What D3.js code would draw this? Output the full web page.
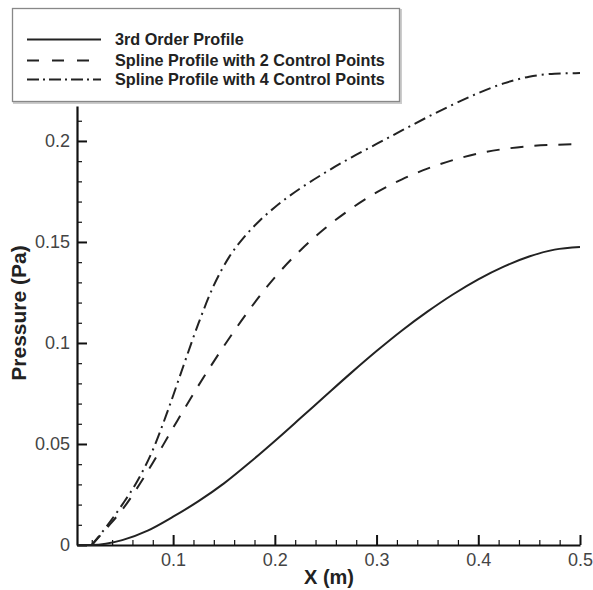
<!DOCTYPE html>
<html>
<head>
<meta charset="utf-8">
<script src="https://cdn.jsdelivr.net/npm/d3@7"></script>
<style>
  body { margin: 0; background: #fff; }
  svg { display: block; font-family: "Liberation Sans", Arial, sans-serif; }
  .axis path, .axis line { stroke: #111; }
  .axis text { fill: #444; font-size: 18px; }
</style>
</head>
<body>
<svg width="593" height="590"></svg>
<script>
// values
var thirdX = [0.006, 0.02, 0.05, 0.075, 0.1, 0.125, 0.15, 0.175, 0.2, 0.225, 0.25, 0.275, 0.3, 0.325, 0.35, 0.375, 0.4, 0.425, 0.45, 0.475, 0.5];
var thirdY = [0, 0, 0.0024, 0.0071, 0.014, 0.0217, 0.0305, 0.0407, 0.0515, 0.0627, 0.074, 0.0852, 0.096, 0.1062, 0.1155, 0.124, 0.1315, 0.1378, 0.1428, 0.1462, 0.1475];

var spline2X = [0.02, 0.035, 0.05, 0.075, 0.1, 0.125, 0.15, 0.175, 0.2, 0.225, 0.25, 0.275, 0.3, 0.325, 0.35, 0.375, 0.4, 0.425, 0.45, 0.475, 0.5];
var spline2Y = [0, 0.0085, 0.0175, 0.0365, 0.058, 0.079, 0.0985, 0.1165, 0.1325, 0.1458, 0.157, 0.1665, 0.1745, 0.181, 0.1863, 0.1905, 0.1938, 0.196, 0.1974, 0.1981, 0.1984];

var spline4X = [0.02, 0.035, 0.05, 0.065, 0.08, 0.095, 0.11, 0.125, 0.14, 0.155, 0.17, 0.185, 0.2, 0.225, 0.25, 0.275, 0.3, 0.325, 0.35, 0.375, 0.4, 0.425, 0.45, 0.475, 0.5];
var spline4Y = [0, 0.0095, 0.02, 0.0318, 0.047, 0.0668, 0.0885, 0.1098, 0.1285, 0.1425, 0.1525, 0.1605, 0.1672, 0.1765, 0.1845, 0.1918, 0.1985, 0.2052, 0.2118, 0.218, 0.2237, 0.2285, 0.2318, 0.2333, 0.2336];

var seriesNames = ["3rd Order Profile", "Spline Profile with 2 Control Points", "Spline Profile with 4 Control Points"];
var dashes = [null, "13,11", "12,5,2,5"];
var legendDashes = [null, "12,13", "12,4,2,4"];

var xMajor = [0.1, 0.2, 0.3, 0.4, 0.5];
var yMajor = [0, 0.05, 0.1, 0.15, 0.2];

var svg = d3.select("svg");

var x = d3.scaleLinear().domain([0.0055, 0.5]).range([77, 580]);
var y = d3.scaleLinear().domain([0, 0.2173]).range([545, 106]);

var xMinor = d3.range(0.02, 0.5, 0.02).filter(function(v) {
  return xMajor.every(function(m) { return Math.abs(m - v) > 1e-6; });
});
var yMinor = d3.range(0.01, 0.217, 0.01).filter(function(v) {
  return yMajor.every(function(m) { return Math.abs(m - v) > 1e-6; });
});

// minor ticks
svg.append("g").attr("class", "axis")
    .attr("transform", "translate(0,545)")
    .call(d3.axisBottom(x).tickValues(xMinor).tickSizeInner(-5).tickSizeOuter(0).tickFormat(""))
    .call(function(g) { g.select(".domain").remove(); g.selectAll("line").attr("stroke-width", 1.2); });
svg.append("g").attr("class", "axis")
    .attr("transform", "translate(77,0)")
    .call(d3.axisLeft(y).tickValues(yMinor).tickSizeInner(-5).tickSizeOuter(0).tickFormat(""))
    .call(function(g) { g.select(".domain").remove(); g.selectAll("line").attr("stroke-width", 1.2); });

// major axes
svg.append("g").attr("class", "axis")
    .attr("transform", "translate(0,545)")
    .call(d3.axisBottom(x).tickValues(xMajor).tickSizeInner(-10).tickSizeOuter(0).tickPadding(8)
      .tickFormat(d3.format("~g")))
    .call(function(g) {
      g.select(".domain").attr("stroke-width", 2.2);
      g.selectAll("line").attr("stroke-width", 2);
    });
svg.append("g").attr("class", "axis")
    .attr("transform", "translate(77,0)")
    .call(d3.axisLeft(y).tickValues(yMajor).tickSizeInner(-10).tickSizeOuter(0).tickPadding(7)
      .tickFormat(d3.format("~g")))
    .call(function(g) {
      g.select(".domain").attr("stroke-width", 2.2);
      g.selectAll("line").attr("stroke-width", 2);
    });

// axis titles
svg.append("text")
    .attr("x", 329).attr("y", 584)
    .attr("text-anchor", "middle")
    .attr("font-size", 20).attr("font-weight", "bold").attr("fill", "#222")
    .text("X (m)");
svg.append("text")
    .attr("transform", "translate(26,313) rotate(-90)")
    .attr("text-anchor", "middle")
    .attr("font-size", 21).attr("font-weight", "bold").attr("fill", "#222")
    .text("Pressure (Pa)");

// curves
var line = d3.line()
    .x(function(d) { return x(d[0]); })
    .y(function(d) { return y(d[1]); })
    .curve(d3.curveMonotoneX);

var series = [
  d3.zip(thirdX, thirdY),
  d3.zip(spline2X, spline2Y),
  d3.zip(spline4X, spline4Y)
];

svg.append("g").selectAll("path")
    .data(series)
  .enter().append("path")
    .attr("d", line)
    .attr("fill", "none")
    .attr("stroke", "#222")
    .attr("stroke-width", 2)
    .attr("stroke-dasharray", function(d, i) { return dashes[i]; });

// legend
var legend = svg.append("g");
legend.append("rect")
    .attr("x", 14).attr("y", 10).attr("width", 387).attr("height", 93)
    .attr("fill", "none").attr("stroke", "#ccc").attr("stroke-width", 2);
legend.append("rect")
    .attr("x", 12.5).attr("y", 8.5).attr("width", 387).attr("height", 93)
    .attr("fill", "#fff").attr("stroke", "#888").attr("stroke-width", 1.3);

var rows = legend.selectAll("g.row")
    .data(seriesNames)
  .enter().append("g")
    .attr("class", "row")
    .attr("transform", function(d, i) { return "translate(0," + [39.5, 60.5, 79.5][i] + ")"; });
rows.append("line")
    .attr("x1", 27).attr("x2", 101)
    .attr("stroke", "#222").attr("stroke-width", 2)
    .attr("stroke-dasharray", function(d, i) { return legendDashes[i]; });
rows.append("text")
    .attr("x", 115).attr("y", 5.5)
    .attr("font-size", 16.2).attr("font-weight", "bold").attr("fill", "#222")
    .text(function(d) { return d; });
</script>
</body>
</html>
